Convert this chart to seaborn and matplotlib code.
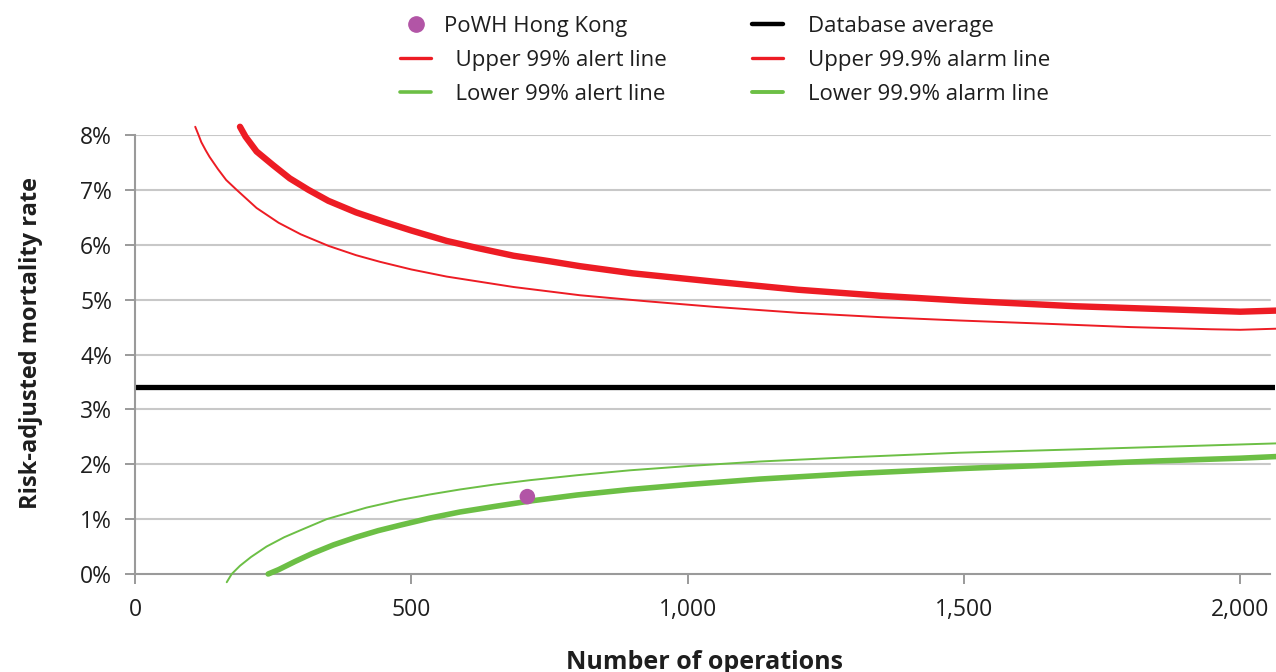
import matplotlib
matplotlib.use("Agg")
import matplotlib.pyplot as plt
from matplotlib.lines import Line2D
import pandas as pd
import seaborn as sns

# values (x = number of operations, y = %)
upper_alarm_x = [190, 200, 220, 250, 280, 314, 350, 400, 450, 500, 564, 620, 685,
                 750, 805, 900, 1046, 1200, 1350, 1500, 1700, 1850, 2000, 2065]
upper_alarm_y = [8.15, 7.97, 7.7, 7.45, 7.21, 7.0, 6.8, 6.59, 6.42, 6.26, 6.07,
                 5.94, 5.8, 5.7, 5.61, 5.48, 5.33, 5.18, 5.07, 4.98, 4.88, 4.83,
                 4.78, 4.8]

upper_alert_x = [109, 115, 120, 128, 135, 150, 165, 184, 220, 260, 300, 350, 400,
                 443, 500, 564, 685, 805, 926, 1046, 1200, 1350, 1491, 1650, 1800,
                 1947, 2000, 2065]
upper_alert_y = [8.15, 8.0, 7.87, 7.72, 7.6, 7.38, 7.18, 7.0, 6.67, 6.4, 6.19,
                 5.98, 5.81, 5.69, 5.55, 5.42, 5.23, 5.08, 4.97, 4.87, 4.76, 4.68,
                 4.62, 4.56, 4.5, 4.46, 4.45, 4.47]

lower_alarm_x = [241, 260, 290, 320, 359, 400, 440, 480, 534, 588, 650, 715, 800,
                 896, 1000, 1131, 1300, 1491, 1700, 1850, 2000, 2065]
lower_alarm_y = [0.0, 0.08, 0.23, 0.37, 0.53, 0.67, 0.79, 0.89, 1.02, 1.13, 1.23,
                 1.33, 1.44, 1.54, 1.63, 1.73, 1.83, 1.92, 2.0, 2.06, 2.11, 2.14]

lower_alert_x = [166, 175, 190, 210, 238, 270, 300, 347, 419, 480, 534, 588, 650,
                 715, 800, 896, 1005, 1131, 1300, 1491, 1700, 1900, 2065]
lower_alert_y = [-0.15, 0.0, 0.15, 0.31, 0.5, 0.67, 0.8, 1.0, 1.21, 1.35, 1.45,
                 1.54, 1.63, 1.71, 1.8, 1.89, 1.97, 2.05, 2.13, 2.21, 2.27, 2.33,
                 2.38]

database_average = 3.4
hospital_x = [710]
hospital_y = [1.41]

x_ticks = [0, 500, 1000, 1500, 2000]
y_ticks = [0, 1, 2, 3, 4, 5, 6, 7, 8]

RED = "#ED1C24"
GREEN = "#6CBF45"
PURPLE = "#B255A6"
TEXT = "#1E1E1E"

sns.set_theme(style="white")
plt.rcParams["font.family"] = ["Open Sans", "DejaVu Sans"]

fig = plt.figure(figsize=(12.76, 6.72), dpi=100)
ax = fig.add_axes([135 / 1276, 1 - 574 / 672, 1140 / 1276, 439 / 672])

ax.set_xlim(0, 2063)
ax.set_ylim(0, 8)
for y in y_ticks[1:]:
    ax.axhline(y, xmax=1135 / 1140, color="#C8C8C8", lw=1.5, zorder=0)

ax.axhline(database_average, color="black", lw=3.8, zorder=2)

series = [
    (upper_alert_x, upper_alert_y, RED, 1.4),
    (upper_alarm_x, upper_alarm_y, RED, 4.6),
    (lower_alert_x, lower_alert_y, GREEN, 1.4),
    (lower_alarm_x, lower_alarm_y, GREEN, 4.0),
]
for xs, ys, color, lw in series:
    df = pd.DataFrame({"ops": xs, "rate": ys})
    sns.lineplot(data=df, x="ops", y="rate", color=color, lw=lw, ax=ax,
                 errorbar=None, clip_on=False, zorder=3)

sns.scatterplot(x=hospital_x, y=hospital_y, color=PURPLE, s=125, ax=ax,
                edgecolor="none", zorder=5)

ax.set_xticks(x_ticks)
ax.set_xticklabels([f"{v:,}" for v in x_ticks])
ax.set_yticks(y_ticks)
ax.set_yticklabels([f"{v}%" for v in y_ticks])
ax.tick_params(axis="both", which="both", direction="out", length=7.5, width=1.4,
               color="#9A9A9A", labelsize=16.5, labelcolor=TEXT,
               bottom=True, left=True)
ax.tick_params(axis="x", pad=10)
ax.tick_params(axis="y", pad=9)

for side in ["top", "right"]:
    ax.spines[side].set_visible(False)
for side in ["left", "bottom"]:
    ax.spines[side].set_color("#9A9A9A")
    ax.spines[side].set_linewidth(1.5)
ax.spines["bottom"].set_bounds(0, 2054)

ax.set_xlabel("Number of operations", fontsize=18, fontweight="bold", color=TEXT)
ax.set_ylabel("Risk-adjusted mortality rate", fontsize=17, fontweight="bold",
              color=TEXT)
ax.xaxis.set_label_coords(0.5, -0.172)
ax.yaxis.set_label_coords(-0.081, 0.526)

left_handles = [
    Line2D([], [], marker="o", ls="none", color=PURPLE, markersize=11),
    Line2D([], [], color=RED, lw=2.4),
    Line2D([], [], color=GREEN, lw=2.6),
]
left_labels = ["PoWH Hong Kong", "  Upper 99% alert line", "  Lower 99% alert line"]
right_handles = [
    Line2D([], [], color="black", lw=3.2),
    Line2D([], [], color=RED, lw=2.4),
    Line2D([], [], color=GREEN, lw=2.8),
]
right_labels = ["Database average", "Upper 99.9% alarm line", "Lower 99.9% alarm line"]

legend_style = dict(frameon=False, fontsize=16, loc="upper left",
                    handlelength=1.4, labelspacing=0.58, borderpad=0,
                    borderaxespad=0, labelcolor=TEXT)
fig.legend(left_handles, left_labels, bbox_to_anchor=(400 / 1276, 1 - 16 / 672),
           handletextpad=0.6, **legend_style)
fig.legend(right_handles, right_labels, bbox_to_anchor=(752 / 1276, 1 - 16 / 672),
           handletextpad=1.1, **legend_style)

fig.savefig("out.png", dpi=100)
